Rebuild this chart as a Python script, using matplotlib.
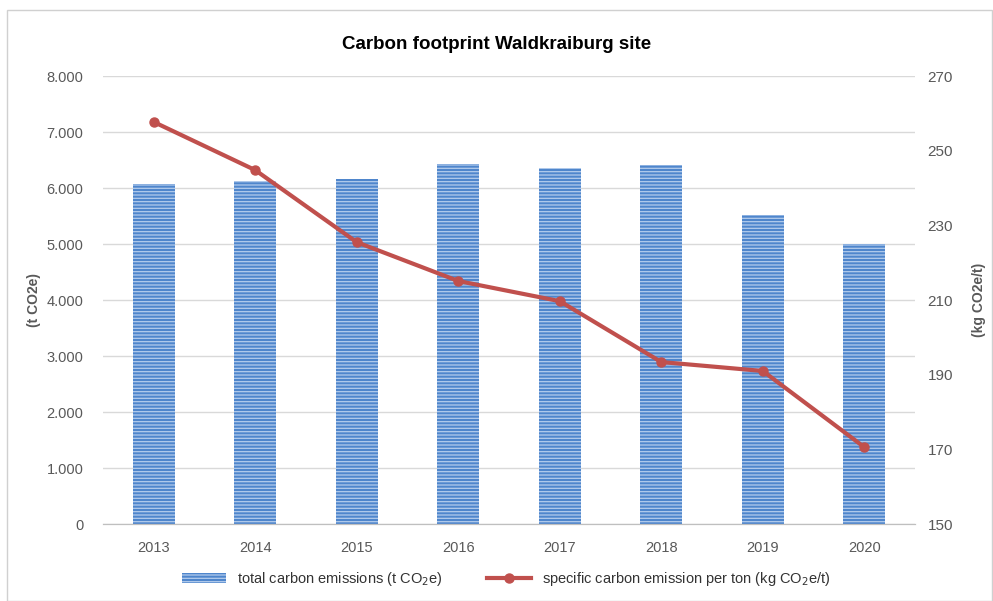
import matplotlib
matplotlib.use('Agg')
import matplotlib.pyplot as plt
from matplotlib.patches import Rectangle
from matplotlib.ticker import FuncFormatter

plt.rcParams['font.family'] = ['Liberation Sans', 'DejaVu Sans']
plt.rcParams['hatch.linewidth'] = 0.9

years = ['2013', '2014', '2015', '2016', '2017', '2018', '2019', '2020']
total_emissions = [6070, 6125, 6160, 6430, 6360, 6410, 5520, 5000]
specific_emission = [257.7, 244.8, 225.5, 215.1, 209.7, 193.4, 191.0, 170.6]

grey = '#595959'
bar_color = '#4f86cc'
stripe_color = '#b3cbec'
line_color = '#c0504d'

fig = plt.figure(figsize=(9.93, 6.01), dpi=100)
ax = fig.add_axes([0.1037, 0.128, 0.8178, 0.7455])
ax2 = ax.twinx()

x = list(range(len(years)))
bars = ax.bar(x, total_emissions, width=0.41, color=bar_color, hatch='-----',
              edgecolor=stripe_color, linewidth=0, zorder=2,
              label='total carbon emissions (t CO$_2$e)')
ax2.plot(x, specific_emission, color=line_color, lw=3, marker='o', ms=6.5,
         zorder=3, label='specific carbon emission per ton (kg CO$_2$e/t)')

ax.set_xlim(-0.5, 7.5)
ax.set_ylim(0, 8000)
ax.set_yticks(range(0, 8001, 1000))
ax.yaxis.set_major_formatter(FuncFormatter(lambda v, p: f'{int(v):,}'.replace(',', '.')))
ax2.set_ylim(150, 270)
ax2.set_yticks(range(150, 271, 20))
ax.set_xticks(x)
ax.set_xticklabels(years)

ax.grid(axis='y', color='#d9d9d9', lw=1, zorder=0)
ax.set_axisbelow(True)
for a in (ax, ax2):
    for s in ('top', 'left', 'right'):
        a.spines[s].set_visible(False)
    a.spines['bottom'].set_color('#bfbfbf')
    a.tick_params(axis='both', length=0, colors=grey, labelsize=10.5)
ax.tick_params(axis='y', pad=14)
ax.tick_params(axis='x', pad=12)
ax2.tick_params(axis='y', pad=9, labelsize=11)

ax.set_ylabel('(t CO2e)', color=grey, fontsize=10, fontweight='bold', labelpad=4)
ax2.set_ylabel('(kg CO2e/t)', color=grey, fontsize=10, fontweight='bold', labelpad=14)

fig.suptitle('Carbon footprint Waldkraiburg site', x=0.5, y=0.94,
             fontsize=13.5, fontweight='bold', color='black')

h1, l1 = ax.get_legend_handles_labels()
h2, l2 = ax2.get_legend_handles_labels()
fig.legend(h1 + h2, l1 + l2, loc='center', bbox_to_anchor=(0.51, 0.037), ncol=2,
           frameon=False, fontsize=10.5, labelcolor='#333333', columnspacing=3,
           handlelength=3)

fig.patches.append(Rectangle((0.007, 0.0), 0.992, 0.983, transform=fig.transFigure,
                             fill=False, edgecolor='#d0d0d0', lw=1))

fig.savefig('out.png', dpi=100)
